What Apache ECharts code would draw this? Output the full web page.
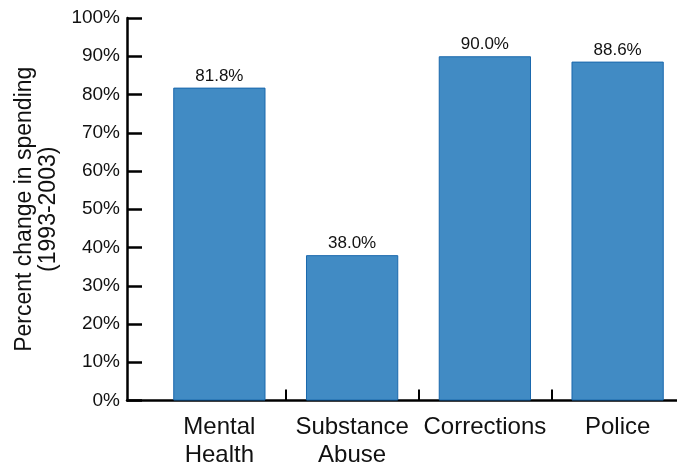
<!DOCTYPE html>
<html>
<head>
<meta charset="utf-8">
<script src="https://cdn.jsdelivr.net/npm/echarts@6/dist/echarts.min.js"></script>
<style>
html,body{margin:0;padding:0;background:#fff;}
#chart{width:677px;height:464px;}
</style>
</head>
<body>
<div id="chart"></div>
<script>
const categories = ['Mental\nHealth', 'Substance\nAbuse', 'Corrections', 'Police'];
const values = [81.8, 38.0, 90.0, 88.6];
const yTicks = [0, 10, 20, 30, 40, 50, 60, 70, 80, 90, 100];
const yTitle = 'Percent change in spending\n(1993-2003)';

const FONT = '"Liberation Sans", Arial, sans-serif';
const chart = echarts.init(document.getElementById('chart'));
chart.setOption({
  animation: false,
  backgroundColor: '#fff',
  grid: [
    { left: 153, width: 531, top: 18, bottom: 63.5, outerBoundsMode: 'none', containLabel: false },
    { left: 127, right: 0, top: 18, bottom: 63.5, outerBoundsMode: 'none', containLabel: false }
  ],
  xAxis: [
    {
      type: 'category',
      gridIndex: 0,
      data: categories,
      axisLine: { show: false },
      axisTick: {
        show: true, inside: true, length: 11,
        interval: function (i) { return i > 0; },
        lineStyle: { color: '#000', width: 2 }
      },
      axisLabel: {
        color: '#111', fontFamily: FONT, fontSize: 24, lineHeight: 28, margin: 13,
        interval: 0
      }
    },
    {
      type: 'value',
      gridIndex: 1,
      min: 0, max: 1,
      axisLine: { show: true, lineStyle: { color: '#000', width: 2.5 } },
      axisTick: { show: false },
      axisLabel: { show: false },
      splitLine: { show: false }
    }
  ],
  yAxis: [
    {
      type: 'value',
      gridIndex: 0,
      min: yTicks[0],
      max: yTicks[yTicks.length - 1],
      interval: yTicks[1] - yTicks[0],
      offset: 26,
      name: yTitle,
      nameLocation: 'middle',
      nameRotate: 90,
      nameGap: 65,
      nameTextStyle: { color: '#111', fontFamily: FONT, fontSize: 23, lineHeight: 24 },
      axisLine: { show: true, lineStyle: { color: '#000', width: 2.5 } },
      axisTick: { show: true, inside: true, length: 15, lineStyle: { color: '#000', width: 2.5 } },
      axisLabel: { color: '#111', fontFamily: FONT, fontSize: 19, margin: 7, formatter: '{value}%' },
      splitLine: { show: false }
    },
    {
      type: 'value',
      gridIndex: 1,
      show: false
    }
  ],
  series: [
    {
      type: 'bar',
      xAxisIndex: 0,
      yAxisIndex: 0,
      data: values,
      barWidth: '69.5%',
      itemStyle: { color: '#418bc4', borderColor: '#1a68ad', borderWidth: 1 },
      label: {
        show: true,
        position: 'top',
        distance: 3,
        color: '#111',
        fontFamily: FONT,
        fontSize: 17,
        formatter: function (p) { return p.value.toFixed(1) + '%'; }
      }
    }
  ]
});
</script>
</body>
</html>
